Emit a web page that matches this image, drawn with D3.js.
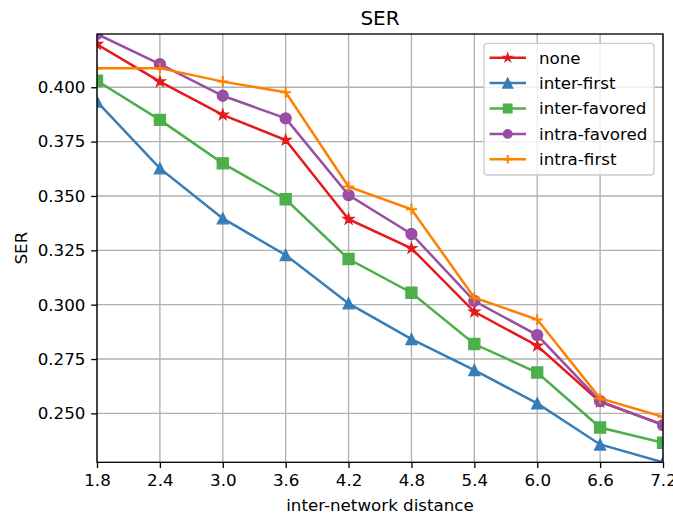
<!DOCTYPE html>
<html>
<head>
<meta charset="utf-8">
<script src="https://cdn.jsdelivr.net/npm/d3@7"></script>
<style>
  body { margin: 0; background: #fff; }
  text { font-family: "DejaVu Sans", sans-serif; }
</style>
</head>
<body>
<div id="chart"></div>
<script>
// data
var distances = [1.8, 2.4, 3.0, 3.6, 4.2, 4.8, 5.4, 6.0, 6.6, 7.2]
var xTicks = [1.8, 2.4, 3.0, 3.6, 4.2, 4.8, 5.4, 6.0, 6.6, 7.2]
var yTicks = [0.250, 0.275, 0.300, 0.325, 0.350, 0.375, 0.400]

var seriesNames = ["none", "inter-first", "inter-favored", "intra-favored", "intra-first"]
var none         = [0.4198, 0.4026, 0.3873, 0.3757, 0.3393, 0.3259, 0.2967, 0.2811, 0.2553, 0.2449]
var interFirst   = [0.3934, 0.3627, 0.3397, 0.3228, 0.3006, 0.2842, 0.2699, 0.2546, 0.2357, 0.2275]
var interFavored = [0.4030, 0.3850, 0.3650, 0.3485, 0.3210, 0.3055, 0.2819, 0.2688, 0.2435, 0.2365]
var intraFavored = [0.4245, 0.4106, 0.3961, 0.3857, 0.3504, 0.3325, 0.3017, 0.2860, 0.2556, 0.2446]
var intraFirst   = [0.4087, 0.4088, 0.4026, 0.3977, 0.3543, 0.3439, 0.3032, 0.2932, 0.2569, 0.2484]

var colors = ["#e41a1c", "#377eb8", "#4daf4a", "#984ea3", "#ff7f00"]
var markers = ["star", "triangle", "square", "circle", "plus"]

var series = [none, interFirst, interFavored, intraFavored, intraFirst].map(function(vals, i){
  return {
    name: seriesNames[i],
    color: colors[i],
    marker: markers[i],
    values: vals.map(function(v, j){ return {x: distances[j], y: v} })
  }
})

var width = 673
var height = 515
// plot box edges
var x0 = 97, x1 = 663, y0 = 34, y1 = 462.3

var svg = d3.select("#chart")
  .append("svg")
    .attr("width", width)
    .attr("height", height)

var x = d3.scaleLinear()
  .domain([1.8, 7.2])
  .range([x0, x1])

var y = d3.scaleLinear()
  .domain([d3.min(interFirst), d3.max(intraFavored)])
  .range([y1, y0])

svg.append("defs").append("clipPath").attr("id", "clip")
  .append("rect")
    .attr("x", x0).attr("y", y0)
    .attr("width", x1 - x0).attr("height", y1 - y0)

// grid
var grid = svg.append("g")
grid.selectAll(".gx").data(xTicks).enter().append("line")
  .attr("x1", d => x(d)).attr("x2", d => x(d))
  .attr("y1", y0).attr("y2", y1)
  .attr("stroke", "#b0b0b0").attr("stroke-width", 1.33)
grid.selectAll(".gy").data(yTicks).enter().append("line")
  .attr("x1", x0).attr("x2", x1)
  .attr("y1", d => y(d)).attr("y2", d => y(d))
  .attr("stroke", "#b0b0b0").attr("stroke-width", 1.33)

// axes
var xAxis = d3.axisBottom(x).tickValues(xTicks).tickFormat(d3.format(".1f")).tickSize(5.8).tickPadding(6.3)
var yAxis = d3.axisLeft(y).tickValues(yTicks).tickFormat(d3.format(".3f")).tickSize(5.8).tickPadding(5.8)

var gx = svg.append("g").attr("transform", "translate(0," + y1 + ")").call(xAxis)
var gy = svg.append("g").attr("transform", "translate(" + x0 + ",0)").call(yAxis)
;[gx, gy].forEach(function(g){
  g.select(".domain").remove()
  g.selectAll(".tick line").attr("stroke", "#000").attr("stroke-width", 1.33)
  g.selectAll(".tick text").attr("fill", "#000").style("font-size", "16.7px").style("font-family", "DejaVu Sans")
})

function markerPath(type, s){
  var r = s / 2
  if (type == "circle") return d3.symbol().type(d3.symbolCircle).size(Math.PI * r * r)()
  if (type == "square") return "M" + (-r) + "," + (-r) + "H" + r + "V" + r + "H" + (-r) + "Z"
  if (type == "triangle") return "M0," + (-r) + "L" + r + "," + r + "L" + (-r) + "," + r + "Z"
  if (type == "plus") return "M" + (-r) + ",0H" + r + "M0," + (-r) + "V" + r
  if (type == "star") {
    var pts = []
    for (var k = 0; k < 10; k++) {
      var rr = k % 2 == 0 ? r : r * 0.381966
      var a = Math.PI * k / 5
      pts.push([rr * Math.sin(a), -rr * Math.cos(a)])
    }
    return "M" + pts.map(p => p.join(",")).join("L") + "Z"
  }
}

function drawMarker(sel, d, size){
  sel.attr("d", markerPath(d.marker, size))
    .attr("fill", d.marker == "plus" ? "none" : d.color)
    .attr("stroke", d.color)
    .attr("stroke-width", d.marker == "plus" ? 2 : 1.33)
}

var line = d3.line().x(d => x(d.x)).y(d => y(d.y))

var plot = svg.append("g").attr("clip-path", "url(#clip)")
series.forEach(function(s){
  plot.append("path")
    .datum(s.values)
    .attr("d", line)
    .attr("fill", "none")
    .attr("stroke", s.color)
    .attr("stroke-width", 2.5)
  plot.selectAll(null).data(s.values).enter().append("path")
    .attr("transform", d => "translate(" + x(d.x) + "," + y(d.y) + ")")
    .each(function(){ drawMarker(d3.select(this), s, 11) })
})

// spines
svg.append("rect")
  .attr("x", x0).attr("y", y0)
  .attr("width", x1 - x0).attr("height", y1 - y0)
  .attr("fill", "none").attr("stroke", "#000").attr("stroke-width", 1.33)

// legend
var legend = svg.append("g").attr("transform", "translate(484,43.3)")
legend.append("rect")
  .attr("width", 170).attr("height", 131.7)
  .attr("rx", 3).attr("ry", 3)
  .attr("fill", "#fff").attr("fill-opacity", 0.8)
  .attr("stroke", "#cccccc").attr("stroke-width", 1.33)

var items = legend.selectAll(".item").data(series).enter().append("g")
  .attr("transform", (d, i) => "translate(0," + (14.4 + i * 25.4) + ")")
items.append("line")
  .attr("x1", 5.5).attr("x2", 42)
  .attr("stroke", d => d.color).attr("stroke-width", 2.5)
items.append("path")
  .attr("transform", "translate(23.7,0)")
  .each(function(d){ drawMarker(d3.select(this), d, d.marker == "triangle" ? 10 : 8.5) })
items.append("text")
  .attr("x", 55).attr("dy", "0.35em")
  .style("font-size", "16.7px")
  .text(d => d.name)

// titles
svg.append("text")
  .attr("x", (x0 + x1) / 2).attr("y", 25)
  .attr("text-anchor", "middle")
  .style("font-size", "20px")
  .text("SER")

svg.append("text")
  .attr("x", (x0 + x1) / 2).attr("y", 511)
  .attr("text-anchor", "middle")
  .style("font-size", "16.7px")
  .text("inter-network distance")

svg.append("text")
  .attr("transform", "translate(27," + ((y0 + y1) / 2) + ") rotate(-90)")
  .attr("text-anchor", "middle")
  .style("font-size", "16.7px")
  .text("SER")
</script>
</body>
</html>
